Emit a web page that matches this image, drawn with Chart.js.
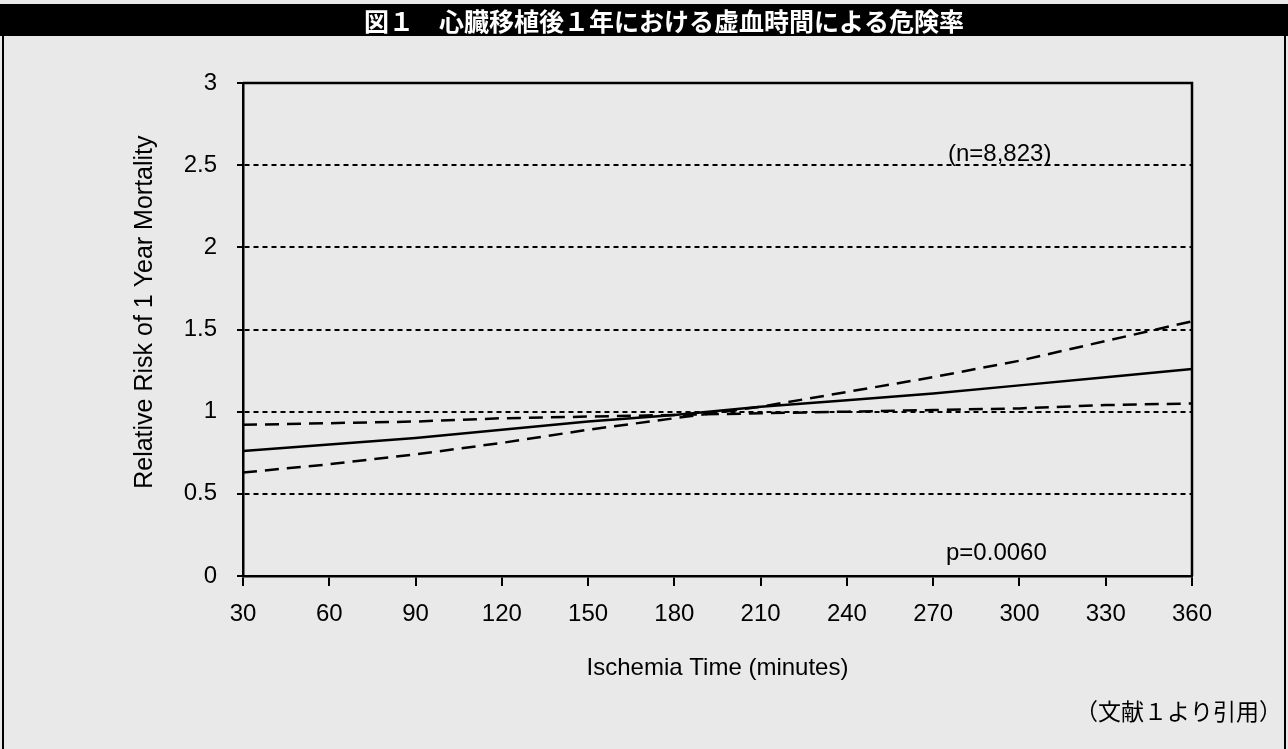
<!DOCTYPE html>
<html>
<head>
<meta charset="utf-8">
<script src="https://cdn.jsdelivr.net/npm/chart.js@4.4.0/dist/chart.umd.min.js"></script>
<style>
  body { margin: 0; background: #e9e9e9; }
  canvas { display: block; }
</style>
</head>
<body>
<canvas id="chart" width="1288" height="749"></canvas>
<script>
// ischemia time (minutes)
const minutes = [30, 60, 90, 120, 150, 180, 210, 240, 270, 300, 330, 360];
// relative risk
const riskMid = [0.76, 0.80, 0.84, 0.89, 0.94, 0.98, 1.03, 1.07, 1.11, 1.16, 1.21, 1.26];
const riskUpperCI = [0.63, 0.68, 0.74, 0.81, 0.89, 0.96, 1.03, 1.12, 1.21, 1.31, 1.43, 1.55];
const riskLowerCI = [0.92, 0.93, 0.94, 0.96, 0.97, 0.98, 0.99, 1.00, 1.01, 1.02, 1.04, 1.05];

const titleText = '図１　心臓移植後１年における虚血時間による危険率';
const noteN = '(n=8,823)';
const noteP = 'p=0.0060';
const sourceText = '（文献１より引用）';

const pts = (ys) => minutes.map((m, i) => ({x: m, y: ys[i]}));
const latin = '"Liberation Sans", Arial, sans-serif';
const cjk = '"Noto Sans CJK JP", sans-serif';

const decor = {
  id: 'decor',
  beforeDraw(chart) {
    const c = chart.ctx;
    c.save();
    c.fillStyle = '#e9e9e9';
    c.fillRect(0, 0, chart.width, chart.height);
    c.restore();
  },
  afterDraw(chart) {
    const c = chart.ctx;
    const a = chart.chartArea;
    const yS = chart.scales.y;
    c.save();
    // title bar
    c.fillStyle = '#000';
    c.fillRect(0, 4, chart.width, 32);
    c.fillStyle = '#fff';
    c.font = 'bold 25px ' + cjk;
    c.textAlign = 'center';
    c.textBaseline = 'middle';
    c.fillText(titleText, 664, 21);
    // outer frame
    c.strokeStyle = '#000';
    c.lineWidth = 2;
    c.beginPath();
    c.moveTo(3, 36); c.lineTo(3, chart.height);
    c.moveTo(1285, 36); c.lineTo(1285, chart.height);
    c.stroke();
    // plot frame top and right
    c.lineWidth = 2.5;
    c.beginPath();
    c.moveTo(a.left, a.top); c.lineTo(a.right, a.top); c.lineTo(a.right, a.bottom);
    c.stroke();
    // notes
    c.fillStyle = '#000';
    c.textAlign = 'left';
    c.font = '24px ' + latin;
    c.fillText(noteN, 948, yS.getPixelForValue(2.57) + 1);
    c.fillText(noteP, 946, yS.getPixelForValue(0.14));
    c.textAlign = 'right';
    c.font = '23px ' + cjk;
    c.fillText(sourceText, 1282, 711);
    c.restore();
  }
};

const lineStyle = {
  borderColor: '#000',
  backgroundColor: '#000',
  borderWidth: 2.5,
  pointRadius: 0,
  fill: false,
  tension: 0
};

new Chart(document.getElementById('chart'), {
  type: 'line',
  data: {
    datasets: [
      Object.assign({label: 'RR', data: pts(riskMid)}, lineStyle),
      Object.assign({label: 'Upper', data: pts(riskUpperCI), borderDash: [14, 8]}, lineStyle),
      Object.assign({label: 'Lower', data: pts(riskLowerCI), borderDash: [14, 8]}, lineStyle)
    ]
  },
  options: {
    responsive: false,
    animation: false,
    layout: {padding: {left: 0, top: 83, right: 96, bottom: 0}},
    plugins: {legend: {display: false}, tooltip: {enabled: false}},
    scales: {
      x: {
        type: 'linear',
        min: 30,
        max: 360,
        afterFit(s) { s.height = 173; },
        ticks: {stepSize: 30, color: '#000', font: {family: latin, size: 24}, padding: 14, maxRotation: 0},
        grid: {drawOnChartArea: false, drawTicks: true, tickLength: 10, tickColor: '#000', lineWidth: 2},
        border: {color: '#000', width: 2.5},
        title: {display: true, text: 'Ischemia Time (minutes)', color: '#000',
                font: {family: latin, size: 24}, padding: {top: 0, bottom: 66}}
      },
      y: {
        min: 0,
        max: 3,
        afterFit(s) { s.width = 243; },
        ticks: {stepSize: 0.5, color: '#000', font: {family: latin, size: 24}, padding: 20,
                callback: (v) => String(v)},
        grid: {
          color: (ctx) => (ctx.tick && (ctx.tick.value === 0 || ctx.tick.value === 3)) ? 'rgba(0,0,0,0)' : '#000',
          lineWidth: 2,
          tickLength: 6,
          tickColor: '#000',
          tickBorderDash: []
        },
        border: {color: '#000', width: 2.5, dash: [5, 4]},
        title: {display: true, text: '     Relative Risk of 1 Year Mortality', color: '#000',
                font: {family: latin, size: 25}, padding: {top: 130}}
      }
    }
  },
  plugins: [decor]
});
</script>
</body>
</html>
